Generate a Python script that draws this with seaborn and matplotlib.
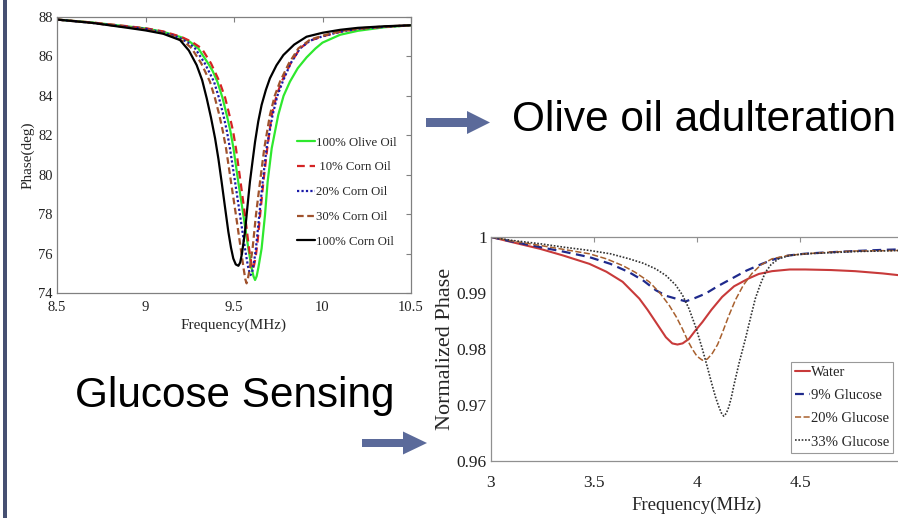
#!/usr/bin/env python3

import matplotlib
matplotlib.use("Agg")
import matplotlib.pyplot as plt
import matplotlib.patches as mpatches
import seaborn as sns

# ---- left panel: phase vs frequency for oil samples ----
olive_f = [8.5, 8.7, 8.9, 9.0, 9.1, 9.2, 9.25, 9.298, 9.35, 9.38, 9.406, 9.435, 9.459, 9.48, 9.497, 9.524,
           9.553, 9.581, 9.6, 9.61, 9.619, 9.628, 9.638, 9.656, 9.675, 9.69, 9.713, 9.75, 9.78, 9.816,
           9.86, 9.91, 9.96, 10.0, 10.1, 10.2, 10.35, 10.5]
olive_p = [87.87, 87.72, 87.52, 87.42, 87.25, 86.98, 86.75, 86.41, 85.7, 85.25, 84.72, 83.9, 83.03, 82.2, 81.34, 79.64,
           77.95, 76.26, 75.25, 74.85, 74.66, 74.85, 75.3, 76.26, 77.95, 79.64, 81.34, 83.03, 84.0, 84.72,
           85.4, 85.95, 86.4, 86.7, 87.1, 87.3, 87.48, 87.58]

corn10_f = [8.5, 8.7, 8.9, 9.0, 9.1, 9.2, 9.26, 9.317, 9.37, 9.418, 9.45, 9.474, 9.495, 9.511, 9.537, 9.562,
            9.585, 9.598, 9.605, 9.613, 9.622, 9.632, 9.648, 9.666, 9.688, 9.713, 9.74, 9.769, 9.82, 9.873,
            9.93, 10.0, 10.1, 10.2, 10.35, 10.5]
corn10_p = [87.87, 87.72, 87.53, 87.43, 87.27, 87.0, 86.75, 86.41, 85.65, 84.72, 83.9, 83.03, 82.2, 81.34, 79.64, 77.95,
            76.26, 75.5, 75.2, 75.4, 75.8, 76.5, 78.0, 79.64, 81.34, 83.03, 84.0, 84.72, 85.65, 86.41,
            86.8, 87.02, 87.25, 87.4, 87.5, 87.58]

corn20_f = [8.5, 8.7, 8.9, 9.0, 9.1, 9.19, 9.24, 9.28, 9.335, 9.387, 9.415, 9.44, 9.46, 9.477, 9.506, 9.534,
            9.562, 9.578, 9.587, 9.594, 9.602, 9.612, 9.624, 9.643, 9.662, 9.684, 9.718, 9.745, 9.775, 9.82,
            9.873, 9.93, 10.0, 10.1, 10.2, 10.35, 10.5]
corn20_p = [87.87, 87.7, 87.5, 87.4, 87.22, 86.95, 86.7, 86.41, 85.65, 84.72, 83.9, 83.03, 82.2, 81.34, 79.64, 77.95,
            76.26, 75.4, 75.05, 74.91, 75.05, 75.5, 76.26, 77.95, 79.64, 81.34, 83.03, 84.0, 84.72, 85.65,
            86.41, 86.8, 87.02, 87.25, 87.4, 87.5, 87.58]

corn30_f = [8.5, 8.7, 8.9, 9.0, 9.1, 9.18, 9.225, 9.261, 9.315, 9.364, 9.392, 9.417, 9.437, 9.455, 9.483, 9.511,
            9.538, 9.555, 9.564, 9.571, 9.578, 9.59, 9.605, 9.624, 9.647, 9.671, 9.703, 9.73, 9.76, 9.81,
            9.864, 9.93, 10.0, 10.1, 10.2, 10.35, 10.5]
corn30_p = [87.87, 87.7, 87.48, 87.37, 87.18, 86.92, 86.7, 86.41, 85.65, 84.72, 83.9, 83.03, 82.2, 81.34, 79.64, 77.95,
            76.26, 75.2, 74.7, 74.49, 74.7, 75.3, 76.26, 77.95, 79.64, 81.34, 83.03, 84.0, 84.72, 85.65,
            86.41, 86.85, 87.05, 87.28, 87.42, 87.52, 87.58]

corn100_f = [8.5, 8.7, 8.9, 9.0, 9.1, 9.195, 9.245, 9.289, 9.32, 9.346, 9.37, 9.393, 9.412, 9.43, 9.45, 9.468,
             9.483, 9.496, 9.51, 9.525, 9.535, 9.545, 9.562, 9.575, 9.59, 9.605, 9.619, 9.637, 9.656, 9.68,
             9.703, 9.74, 9.779, 9.84, 9.91, 10.0, 10.1, 10.2, 10.35, 10.5]
corn100_p = [87.87, 87.7, 87.45, 87.32, 87.15, 86.83, 86.3, 85.56, 84.8, 83.87, 82.9, 81.85, 80.8, 79.64, 78.3, 77.11,
             76.3, 75.75, 75.45, 75.38, 75.55, 76.0, 77.1, 78.3, 79.64, 80.7, 81.67, 82.7, 83.54, 84.3,
             84.89, 85.55, 86.07, 86.6, 87.0, 87.2, 87.35, 87.45, 87.53, 87.58]

oil_xticks = [8.5, 9, 9.5, 10, 10.5]
oil_xticklabels = ["8.5", "9", "9.5", "10", "10.5"]
oil_yticks = [74, 76, 78, 80, 82, 84, 86, 88]

# ---- right panel: normalized phase for glucose samples ----
water_f = [3.0, 3.1, 3.237, 3.35, 3.478, 3.56, 3.639, 3.72, 3.76, 3.80, 3.849, 3.88, 3.905, 3.93, 3.961,
           3.99, 4.026, 4.07, 4.122, 4.18, 4.251, 4.3, 4.364, 4.45, 4.525, 4.65, 4.767, 4.9, 5.0]
water_p = [1.0, 0.9991, 0.9979, 0.9967, 0.9952, 0.9938, 0.9920, 0.9890, 0.9870, 0.9848, 0.9821, 0.9810,
           0.9808, 0.9810, 0.9818, 0.9832, 0.9848, 0.9870, 0.9893, 0.9912, 0.9926, 0.9934, 0.9939, 0.9942,
           0.9942, 0.9941, 0.9939, 0.9935, 0.9931]

glu9_f = [3.0, 3.1, 3.237, 3.35, 3.478, 3.58, 3.671, 3.74, 3.80, 3.85, 3.897, 3.945, 3.99, 4.042, 4.1,
          4.17, 4.24, 4.315, 4.38, 4.444, 4.52, 4.605, 4.767, 4.9, 5.0]
glu9_p = [1.0, 0.9992, 0.9982, 0.9974, 0.9964, 0.9952, 0.9937, 0.9922, 0.9905, 0.9895, 0.9890, 0.9885,
          0.9891, 0.9899, 0.9912, 0.9926, 0.9940, 0.9952, 0.9961, 0.9967, 0.9970, 0.9972, 0.9975, 0.9977,
          0.9978]

glu20_f = [3.0, 3.1, 3.237, 3.35, 3.478, 3.56, 3.639, 3.7, 3.768, 3.82, 3.865, 3.9, 3.929, 3.955, 3.977,
           4.0, 4.026, 4.05, 4.074, 4.1, 4.122, 4.155, 4.187, 4.225, 4.267, 4.31, 4.364, 4.44, 4.525, 4.65,
           4.767, 5.0]
glu20_p = [1.0, 0.9993, 0.9985, 0.9978, 0.9970, 0.9961, 0.9949, 0.9937, 0.9920, 0.9900, 0.9878, 0.9857,
           0.9836, 0.9815, 0.9800, 0.9787, 0.9780, 0.9782, 0.9792, 0.9808, 0.9828, 0.9860, 0.9888, 0.9914,
           0.9935, 0.9950, 0.9961, 0.9967, 0.9970, 0.9973, 0.9975, 0.9976]

glu33_f = [3.0, 3.1, 3.237, 3.35, 3.478, 3.58, 3.671, 3.74, 3.80, 3.85, 3.897, 3.93, 3.961, 3.995, 4.026,
           4.05, 4.074, 4.09, 4.105, 4.118, 4.13, 4.142, 4.155, 4.167, 4.179, 4.205, 4.235, 4.26, 4.283,
           4.308, 4.332, 4.36, 4.396, 4.45, 4.525, 4.65, 4.767, 5.0]
glu33_p = [1.0, 0.9994, 0.9988, 0.9982, 0.9976, 0.9970, 0.9961, 0.9953, 0.9943, 0.9931, 0.9914, 0.9896,
           0.9872, 0.9838, 0.9800, 0.9768, 0.9735, 0.9714, 0.9698, 0.9686, 0.9680, 0.9685, 0.9697, 0.9714,
           0.9735, 0.9776, 0.9818, 0.9856, 0.9890, 0.9916, 0.9937, 0.9951, 0.9961, 0.9967, 0.9970, 0.9972,
           0.9974, 0.9976]

# the "5" tick sits past the slide edge, so its label is not shown
glu_xticks = [3, 3.5, 4, 4.5, 5]
glu_xticklabels = ["3", "3.5", "4", "4.5", ""]
glu_yticks = [0.96, 0.97, 0.98, 0.99, 1.0]
glu_yticklabels = ["0.96", "0.97", "0.98", "0.99", "1"]

sns.set_style("white")
plt.rcParams["font.family"] = ["Liberation Serif", "DejaVu Serif"]

W, H = 898, 518
fig = plt.figure(figsize=(W / 100, H / 100), dpi=100)

# overlay in pixel coordinates for the slide decorations
deco = fig.add_axes([0, 0, 1, 1])
deco.set_xlim(0, W)
deco.set_ylim(H, 0)
deco.axis("off")
deco.add_patch(mpatches.Rectangle((3, 0), 4, H, color="#465072", lw=0))
arrow_col = "#5b6a9a"
deco.add_patch(mpatches.FancyArrow(426, 122.5, 64, 0, width=9, head_width=23, head_length=23,
                                   length_includes_head=True, color=arrow_col, lw=0))
deco.add_patch(mpatches.FancyArrow(362, 443, 65, 0, width=8, head_width=23, head_length=24,
                                   length_includes_head=True, color=arrow_col, lw=0))
deco.text(512, 131, "Olive oil adulteration", fontsize=30.5, family="Liberation Sans",
          ha="left", va="baseline", color="black")
deco.text(75, 407, "Glucose Sensing", fontsize=30.4, family="Liberation Sans",
          ha="left", va="baseline", color="black")


def style_axes(ax, spine_col, length):
    for s in ax.spines.values():
        s.set_color(spine_col)
        s.set_linewidth(0.9)
    ax.tick_params(direction="in", top=True, right=True, length=length, width=0.8,
                   color=spine_col, colors="#222222")


# left panel
ax1 = fig.add_axes([57 / W, 1 - 293 / H, (411 - 57) / W, (293 - 17) / H])
sns.lineplot(x=olive_f, y=olive_p, ax=ax1, color="#2ee82e", lw=1.6, label="100% Olive Oil")
sns.lineplot(x=corn10_f, y=corn10_p, ax=ax1, color="#d42424", lw=1.6, linestyle=(0, (3.5, 2.2)),
             label=" 10% Corn Oil")
sns.lineplot(x=corn20_f, y=corn20_p, ax=ax1, color="#1a1aa8", lw=1.6, linestyle=(0, (1, 1)),
             label="20% Corn Oil")
sns.lineplot(x=corn30_f, y=corn30_p, ax=ax1, color="#a0522d", lw=1.6, linestyle=(0, (3, 1.6)),
             label="30% Corn Oil")
sns.lineplot(x=corn100_f, y=corn100_p, ax=ax1, color="black", lw=1.6, label="100% Corn Oil")
ax1.set_xlim(8.5, 10.5)
ax1.set_ylim(74, 88)
ax1.set_xticks(oil_xticks)
ax1.set_xticklabels(oil_xticklabels)
ax1.set_yticks(oil_yticks)
ax1.tick_params(labelsize=10.5)
ax1.tick_params(axis="x", pad=6)
ax1.tick_params(axis="y", pad=3)
ax1.set_xlabel("Frequency(MHz)", fontsize=11, labelpad=3)
ax1.set_ylabel("Phase(deg)", fontsize=11, labelpad=3)
style_axes(ax1, "#808080", 3.5)
ax1.legend(loc="upper left", bbox_to_anchor=(0.664, 0.585), frameon=False, fontsize=9.2,
           handlelength=1.4, handletextpad=0.1, labelspacing=1.0, borderaxespad=0)

# right panel (runs past the right edge of the slide)
ax2 = fig.add_axes([491 / W, 1 - 461 / H, (903 - 491) / W, (461 - 237) / H])
sns.lineplot(x=water_f, y=water_p, ax=ax2, color="#c83a3a", lw=1.5, label="Water")
sns.lineplot(x=glu9_f, y=glu9_p, ax=ax2, color="#1f2a8c", lw=1.6, linestyle=(0, (4, 2.5)),
             label="9% Glucose")
sns.lineplot(x=glu20_f, y=glu20_p, ax=ax2, color="#a8602e", lw=1.1, linestyle=(0, (4, 1.6)),
             label="20% Glucose")
sns.lineplot(x=glu33_f, y=glu33_p, ax=ax2, color="#333333", lw=1.2, linestyle=(0, (1, 1)),
             label="33% Glucose")
ax2.set_xlim(3, 5)
ax2.set_ylim(0.96, 1.0)
ax2.set_xticks(glu_xticks)
ax2.set_xticklabels(glu_xticklabels)
ax2.set_yticks(glu_yticks)
ax2.set_yticklabels(glu_yticklabels)
ax2.tick_params(labelsize=12.5)
ax2.tick_params(axis="x", pad=10)
ax2.tick_params(axis="y", pad=3)
ax2.set_xlabel("Frequency(MHz)", fontsize=13.5, labelpad=4)
ax2.set_ylabel("Normalized Phase", fontsize=16, labelpad=1)
style_axes(ax2, "#909090", 3.5)
leg = ax2.legend(loc="lower left", bbox_to_anchor=(0.728, 0.036), frameon=True, fontsize=10.5,
                 handlelength=1.0, handletextpad=0.05, labelspacing=0.68, borderpad=0.3,
                 borderaxespad=0, fancybox=False)
leg.get_frame().set_edgecolor("#808080")
leg.get_frame().set_linewidth(0.8)

fig.savefig("out.png", dpi=100)
